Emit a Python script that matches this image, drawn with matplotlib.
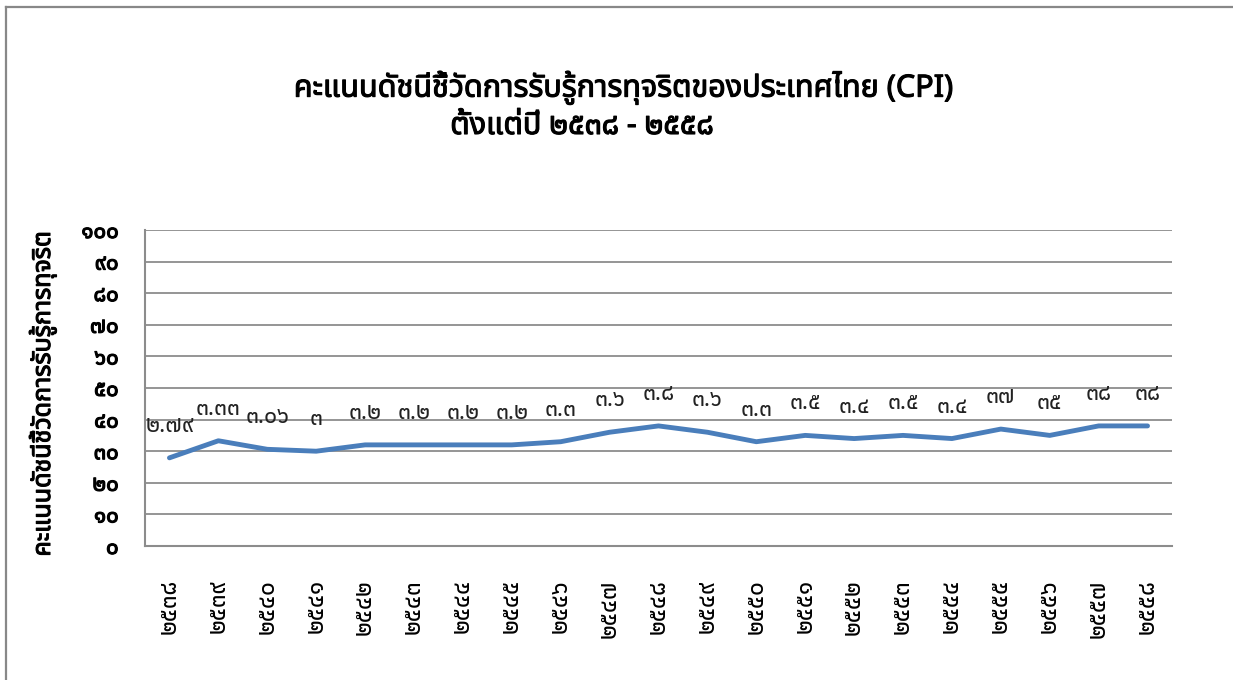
import numpy as np
import matplotlib
matplotlib.use("Agg")
import matplotlib.pyplot as plt
import matplotlib.patheffects as pe
from matplotlib import font_manager
from matplotlib.ft2font import FT2Font

# Data
years = ["๒๕๓๘", "๒๕๓๙", "๒๕๔๐", "๒๕๔๑", "๒๕๔๒", "๒๕๔๓", "๒๕๔๔", "๒๕๔๕",
         "๒๕๔๖", "๒๕๔๗", "๒๕๔๘", "๒๕๔๙", "๒๕๕๐", "๒๕๕๑", "๒๕๕๒", "๒๕๕๓",
         "๒๕๕๔", "๒๕๕๕", "๒๕๕๖", "๒๕๕๗", "๒๕๕๘"]
scores = [27.9, 33.3, 30.6, 30, 32, 32, 32, 32, 33, 36, 38, 36, 33, 35, 34, 35,
          34, 37, 35, 38, 38]
point_labels = ["๒.๗๙", "๓.๓๓", "๓.๐๖", "๓", "๓.๒", "๓.๒", "๓.๒", "๓.๒", "๓.๓",
                "๓.๖", "๓.๘", "๓.๖", "๓.๓", "๓.๕", "๓.๔", "๓.๕", "๓.๔", "๓๗",
                "๓๕", "๓๘", "๓๘"]
yticks = [0, 10, 20, 30, 40, 50, 60, 70, 80, 90, 100]
ytick_labels = ["๐", "๑๐", "๒๐", "๓๐", "๔๐", "๕๐", "๖๐", "๗๐", "๘๐", "๙๐", "๑๐๐"]


# find an installed font that has Thai glyphs
def find_thai_font():
    names = []
    for f in font_manager.fontManager.ttflist:
        try:
            cmap = FT2Font(f.fname).get_charmap()
        except Exception:
            continue
        if 0x0E01 in cmap and 0x0E58 in cmap:
            names.append(f.name)
    pref = ["Noto Sans Thai", "Noto Sans Thai UI", "Tahoma", "Loma", "Garuda"]
    for p in pref:
        if p in names:
            return p
    return names[0] if names else "DejaVu Sans"


thai = find_thai_font()
plt.rcParams['font.family'] = [thai, 'DejaVu Sans']

# thin stroke to thicken text that is bold in the original
heavy = [pe.withStroke(linewidth=0.8, foreground="black")]

fig = plt.figure(figsize=(12.33, 6.80), dpi=100)
ax = fig.add_axes([145 / 1233, 1 - 546 / 680, 1027 / 1233, 316 / 680])

x = np.arange(len(years))
ax.plot(x, scores, color="#4A7EBB", linewidth=3.5, solid_joinstyle="round",
        solid_capstyle="round")

for xi, yi, lab in zip(x, scores, point_labels):
    ax.annotate(lab, (xi, yi), xytext=(0, 23), textcoords="offset points",
                ha="center", va="center", fontsize=16.5, color="#222222")

ax.set_xlim(-0.5, len(years) - 0.5)
ax.set_ylim(0, 100)
ax.set_yticks(yticks)
ax.set_yticklabels(ytick_labels, fontsize=16, fontweight="bold")
for t in ax.get_yticklabels():
    t.set_path_effects(heavy)
ax.set_xticks(x)
ax.set_xticklabels(years, rotation=90, fontsize=17.5)
ax.tick_params(length=0)
ax.tick_params(axis="x", pad=24)
ax.tick_params(axis="y", pad=19)
ax.grid(axis="y", color="#8C8C8C", linewidth=1.3)
ax.set_axisbelow(True)
for s in ["top", "right"]:
    ax.spines[s].set_visible(False)
for s in ["left", "bottom"]:
    ax.spines[s].set_color("#8C8C8C")
    ax.spines[s].set_linewidth(1.5)

ylab = ax.set_ylabel("คะแนนดัชนีชี้วัดการรับรู้การทุจริต", fontsize=18,
                     fontweight="bold")
ylab.set_path_effects(heavy)
ax.yaxis.set_label_coords(-88 / 1027, 0.48)

t1 = fig.text(624 / 1233, 1 - 88 / 680, "คะแนนดัชนีชี้วัดการรับรู้การทุจริตของประเทศไทย (CPI)",
              ha="center", va="center", fontsize=22, fontweight="bold")
t2 = fig.text(582 / 1233, 1 - 126 / 680, "ตั้งแต่ปี ๒๕๓๘ - ๒๕๕๘",
              ha="center", va="center", fontsize=22, fontweight="bold")
t1.set_path_effects(heavy)
t2.set_path_effects(heavy)

# chart border (left and top edges visible)
fig.add_artist(plt.Line2D([6 / 1233, 6 / 1233], [0, 1 - 7 / 680],
                          transform=fig.transFigure, color="#888888", linewidth=1.6))
fig.add_artist(plt.Line2D([6 / 1233, 1], [1 - 7 / 680, 1 - 7 / 680],
                          transform=fig.transFigure, color="#888888", linewidth=1.6))

fig.savefig("out.png", dpi=100)
